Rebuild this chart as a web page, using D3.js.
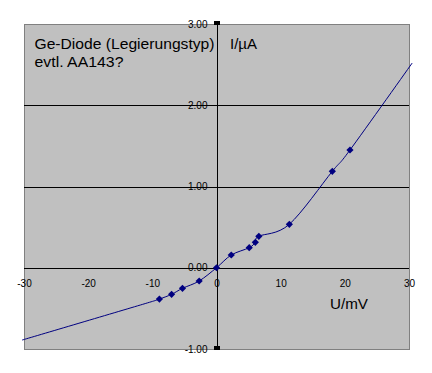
<!DOCTYPE html>
<html lang="de">
<head>
  <meta charset="UTF-8">
  <title>Ge-Diode Kennlinie</title>
  <script src="https://d3js.org/d3.v7.min.js"></script>
  <style>
    body { margin: 0; background: #fff; }
    svg { display: block; font-family: "Liberation Sans", Arial, sans-serif; }
  </style>
</head>
<body>
  <svg width="432" height="373"></svg>
  <script>
  // measured points: U in mV, I in µA
  const uMeas = [-8.9, -7.0, -5.3, -2.7, 0, 2.3, 5.1, 6.05, 6.6, 11.35, 18.05, 20.8];
  const iMeas = [-0.385, -0.327, -0.253, -0.163, 0, 0.157, 0.247, 0.313, 0.387, 0.535, 1.187, 1.449];
  // extra points of the line beyond the markers
  const uLeft = [-30.3, -11.5];
  const iLeft = [-0.89, -0.45];
  const uRight = [30.5];
  const iRight = [2.52];

  const xTicks = [-30, -20, -10, 0, 10, 20, 30];
  const yTicks = [-1, 0, 1, 2, 3];
  const gridY = [1, 2];

  const svg = d3.select("svg");
  const pLeft = 24, pRight = 409, pTop = 24, pBottom = 349;

  const x = d3.scaleLinear().domain([-30, 30]).range([pLeft, pRight]);
  const y = d3.scaleLinear().domain([-1, 3]).range([pBottom, pTop]);

  svg.append("rect")
    .attr("x", pLeft + 0.5).attr("y", pTop + 0.5)
    .attr("width", pRight - pLeft).attr("height", pBottom - pTop)
    .attr("fill", "#c0c0c0")
    .attr("stroke", "#808080")
    .attr("stroke-width", 1);

  svg.selectAll("line.grid")
    .data(gridY)
    .join("line")
    .attr("class", "grid")
    .attr("x1", pLeft).attr("x2", pRight)
    .attr("y1", d => Math.round(y(d)) + 0.5)
    .attr("y2", d => Math.round(y(d)) + 0.5)
    .attr("stroke", "#000");

  // axes crossing at zero
  svg.append("line")
    .attr("x1", pLeft).attr("x2", pRight)
    .attr("y1", Math.round(y(0)) + 0.5).attr("y2", Math.round(y(0)) + 0.5)
    .attr("stroke", "#000");
  svg.append("line")
    .attr("x1", Math.round(x(0)) + 0.5).attr("x2", Math.round(x(0)) + 0.5)
    .attr("y1", pTop).attr("y2", pBottom)
    .attr("stroke", "#000");

  // little end marks on the y axis
  svg.selectAll("rect.endmark")
    .data([3, -1])
    .join("rect")
    .attr("class", "endmark")
    .attr("x", Math.round(x(0)) - 3)
    .attr("y", d => Math.round(y(d)) - 3)
    .attr("width", 6).attr("height", 4)
    .attr("fill", "#000");

  const xAxis = svg.append("g")
    .attr("transform", `translate(0,${y(0)})`)
    .call(d3.axisBottom(x).tickValues(xTicks).tickSize(0).tickPadding(12).tickFormat(d3.format("d")));
  const yAxis = svg.append("g")
    .attr("transform", `translate(${x(0) - 9},0)`)
    .call(d3.axisLeft(y).tickValues(yTicks).tickSize(0).tickPadding(0).tickFormat(d3.format(".2f")));
  [xAxis, yAxis].forEach(g => {
    g.select(".domain").remove();
    g.selectAll("text")
      .attr("font-family", "'Liberation Sans', Arial, sans-serif")
      .attr("font-size", 10)
      .attr("fill", "#000");
  });
  xAxis.selectAll("text").text(d => d3.format("d")(d).replace("−", "-"));
  yAxis.selectAll("text").text(d => d3.format(".2f")(d).replace("−", "-"));

  // curve
  const linePts = [];
  uLeft.forEach((u, k) => linePts.push([u, iLeft[k]]));
  uMeas.forEach((u, k) => linePts.push([u, iMeas[k]]));
  uRight.forEach((u, k) => linePts.push([u, iRight[k]]));

  const line = d3.line()
    .x(d => x(d[0]))
    .y(d => y(d[1]))
    .curve(d3.curveCardinal.tension(0));

  svg.append("path")
    .datum(linePts)
    .attr("d", line)
    .attr("fill", "none")
    .attr("stroke", "#000080")
    .attr("stroke-width", 1);

  const diamond = d3.symbol(d3.symbolSquare, 26);
  svg.selectAll("path.pt")
    .data(uMeas.map((u, k) => [u, iMeas[k]]))
    .join("path")
    .attr("class", "pt")
    .attr("d", diamond)
    .attr("transform", d => `translate(${x(d[0])},${y(d[1])}) rotate(45)`)
    .attr("fill", "#000080");

  // labels
  const labelFont = 14;
  function label(txt, lx, ly, len) {
    svg.append("text")
      .attr("x", lx).attr("y", ly)
      .attr("font-size", labelFont)
      .attr("fill", "#000")
      .attr("textLength", len)
      .attr("lengthAdjust", "spacingAndGlyphs")
      .text(txt);
  }
  label("Ge-Diode (Legierungstyp)", 34.5, 48.5, 180);
  label("evtl. AA143?", 34.5, 66.5, 89);
  label("I/µA", 230, 48.5, 27);
  label("U/mV", 330, 308.5, 38);
  </script>
</body>
</html>
